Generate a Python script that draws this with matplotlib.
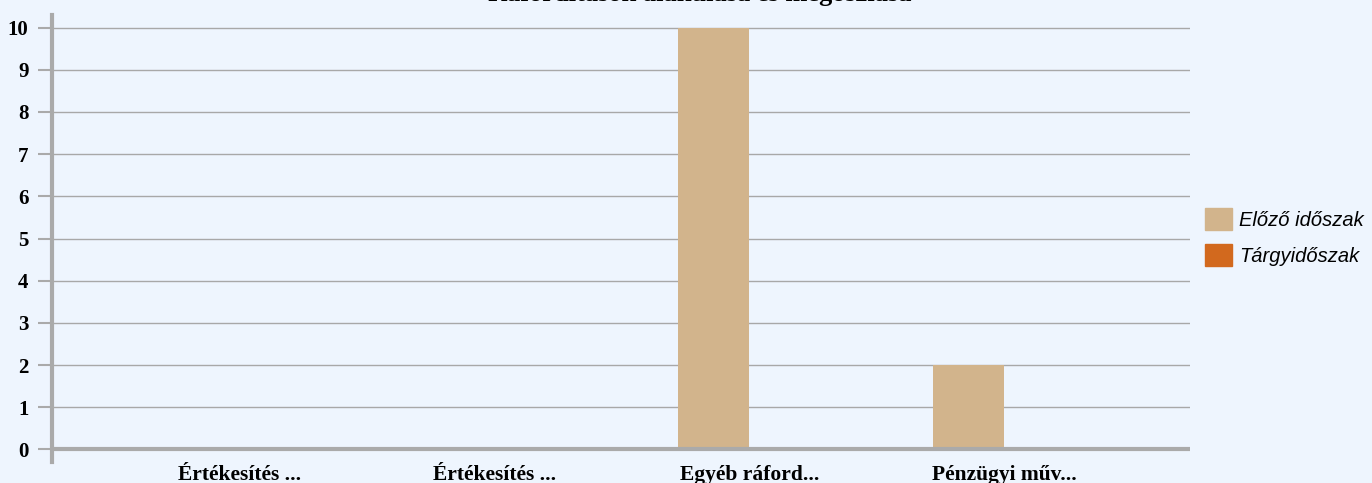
import numpy as np
import matplotlib.pyplot as plt
from matplotlib.patches import Patch

# adatok
kategoriak = ["Értékesítés ...", "Értékesítés ...", "Egyéb ráford...", "Pénzügyi műv..."]
elozo = [0, 0, 10, 2]
targy = [0, 0, 0, 0]
sorozatok = ["Előző időszak", "Tárgyidőszak"]
cim = "Ráfordítások alakulása és megoszlása"

szin_elozo = "#D2B48C"
szin_targy = "#D2691E"
hatter = "#EEF5FE"

fig = plt.figure(figsize=(13.72, 4.83), dpi=100)
fig.patch.set_facecolor(hatter)
ax = fig.add_axes([52/1372, 21/483, (1190-52)/1372, 447/483])
ax.set_facecolor(hatter)

x = np.arange(len(kategoriak))
w = 0.28
ax.bar(x, elozo, w, color=szin_elozo, zorder=3)
ax.bar(x + w, targy, w, color=szin_targy, zorder=3)

ax.set_xlim(-0.597, 3.87)
ax.set_ylim(-0.3, 10.3)
ax.set_yticks(range(0, 11))
ax.grid(axis="y", color="#A8A8A8", linewidth=1, zorder=0)
ax.axhline(0, color="#AAAAAA", linewidth=3, zorder=4)

for s in ["top", "right", "bottom"]:
    ax.spines[s].set_visible(False)
ax.spines["left"].set_color("#AAAAAA")
ax.spines["left"].set_linewidth(3)

ax.tick_params(axis="y", length=10, width=1.5, color="#AAAAAA", pad=7)
ax.tick_params(axis="x", length=0, pad=2)
# a felirat a csoport közepén van
ax.set_xticks(x + w / 2)
ax.set_xticklabels(kategoriak)
for t in ax.get_yticklabels():
    t.set_family("Liberation Serif")
    t.set_fontweight("bold")
    t.set_fontsize(15)
for t in ax.get_xticklabels():
    t.set_family("Liberation Serif")
    t.set_fontweight("bold")
    t.set_fontsize(15.5)

fig.text(700/1372, 1 - 0.5/483, cim, ha="center", va="baseline",
         family="Liberation Serif", fontweight="bold", fontsize=19)

handles = [Patch(color=szin_elozo), Patch(color=szin_targy)]
leg = fig.legend(handles, sorozatok, loc="center left",
                 bbox_to_anchor=(1205/1372, 1 - 237/483), frameon=False,
                 prop={"family": "Liberation Sans", "style": "italic", "size": 14.5},
                 handlelength=1.35, handleheight=1.35, handletextpad=0.35,
                 labelspacing=0.65, borderpad=0, borderaxespad=0)

fig.savefig("out.png", dpi=100, facecolor=hatter)
